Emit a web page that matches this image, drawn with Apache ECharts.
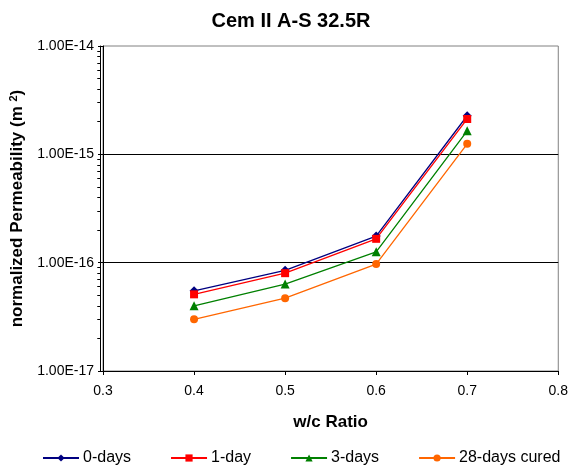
<!DOCTYPE html>
<html>
<head>
<meta charset="utf-8">
<script src="https://cdn.jsdelivr.net/npm/echarts@6/dist/echarts.min.js"></script>
<style>
  html, body { margin: 0; padding: 0; background: #fff; }
  #chart { width: 571px; height: 467px; }
</style>
</head>
<body>
<div id="chart"></div>
<script>
// w/c ratios
var ratios = [0.4, 0.5, 0.6, 0.7];
// normalized permeability (m2)
var days0 = [5.5e-17, 8.5e-17, 1.76e-16, 2.27e-15];
var day1 = [5.1e-17, 8.0e-17, 1.66e-16, 2.12e-15];
var days3 = [4.0e-17, 6.35e-17, 1.26e-16, 1.65e-15];
var days28 = [3.0e-17, 4.7e-17, 9.7e-17, 1.25e-15];
var seriesNames = ['0-days', '1-day', '3-days', '28-days cured'];

var FONT = 'Liberation Sans, Arial, sans-serif';

function pairs(ys) {
    var out = [];
    for (var i = 0; i < ratios.length; i++) {
        out.push([ratios[i], ys[i]]);
    }
    return out;
}

// minor log ticks (2..9 of each decade), in exponent space for the overlay axis
var minorTicks = [];
for (var e = -17; e < -14; e++) {
    for (var k = 2; k <= 9; k++) {
        minorTicks.push(e + Math.log10(k));
    }
}

function makeSeries(name, ys, color, symbol, size) {
    return {
        name: name,
        type: 'line',
        data: pairs(ys),
        symbol: symbol,
        symbolSize: size,
        showAllSymbol: true,
        lineStyle: { color: color, width: 1.3 },
        itemStyle: { color: color },
        emphasis: { disabled: true },
        animation: false
    };
}

var chart = echarts.init(document.getElementById('chart'));
chart.setOption({
    backgroundColor: '#fff',
    title: {
        text: 'Cem II A-S 32.5R',
        left: 286,
        textAlign: 'center',
        top: 6,
        textStyle: { fontFamily: FONT, fontSize: 20, fontWeight: 'bold', color: '#000' }
    },
    legend: {
        data: seriesNames,
        left: 37,
        top: 445,
        itemWidth: 36,
        itemHeight: 9,
        itemGap: 39,
        textStyle: { fontFamily: FONT, fontSize: 16, color: '#000', padding: [0, 0, 0, -1] }
    },
    grid: {
        left: 103,
        top: 46,
        width: 458,
        height: 325,
        show: true,
        borderColor: '#808080',
        borderWidth: 1,
        backgroundColor: '#fff'
    },
    xAxis: {
        type: 'value',
        min: 0.3,
        max: 0.8,
        interval: 0.1,
        name: 'w/c Ratio',
        nameLocation: 'middle',
        nameGap: 43,
        nameTextStyle: { fontFamily: FONT, fontSize: 17, fontWeight: 'bold', color: '#000' },
        axisLine: { show: true, lineStyle: { color: '#000', width: 1 } },
        axisTick: { show: true, length: 4, lineStyle: { color: '#000' } },
        axisLabel: {
            fontFamily: FONT, fontSize: 14, color: '#000', margin: 13,
            formatter: function (v) { return v.toFixed(1); }
        },
        splitLine: { show: false }
    },
    yAxis: [{
        type: 'log',
        logBase: 10,
        min: 1e-17,
        max: 1e-14,
        name: 'normalized Permeability (m {sup|2})',
        nameLocation: 'middle',
        nameRotate: 90,
        nameGap: 73,
        nameTextStyle: {
            fontFamily: FONT, fontSize: 17, fontWeight: 'bold', color: '#000',
            rich: {
                sup: { fontFamily: FONT, fontSize: 11, fontWeight: 'bold', color: '#000', verticalAlign: 'top', padding: [0, 0, 8, 0] }
            }
        },
        axisLine: { show: true, lineStyle: { color: '#000', width: 1 } },
        axisTick: { show: true, length: 5, lineStyle: { color: '#000' } },
        axisLabel: {
            fontFamily: FONT, fontSize: 14, color: '#000', margin: 9,
            formatter: function (v) { return v.toExponential(2).toUpperCase(); }
        },
        splitLine: { show: true, showMinLine: false, showMaxLine: false, lineStyle: { color: '#000', width: 1 } }
    }, {
        // overlay axis (exponent space) only for the minor log ticks;
        // a second 'left' axis gets moved right, so place it on the right and shift it back
        type: 'value',
        min: -17,
        max: -14,
        position: 'right',
        offset: -458,
        axisLine: { show: true, lineStyle: { color: '#000' } },
        axisTick: { show: true, inside: true, length: 3, customValues: minorTicks, lineStyle: { color: '#000' } },
        axisLabel: { show: true, formatter: function () { return ''; } },
        splitLine: { show: false }
    }],
    series: [
        makeSeries(seriesNames[0], days0, '#000080', 'diamond', 9),
        makeSeries(seriesNames[1], day1, '#ff0000', 'rect', 8),
        makeSeries(seriesNames[2], days3, '#008000', 'triangle', 9),
        makeSeries(seriesNames[3], days28, '#ff6600', 'circle', 8)
    ]
});
</script>
</body>
</html>
